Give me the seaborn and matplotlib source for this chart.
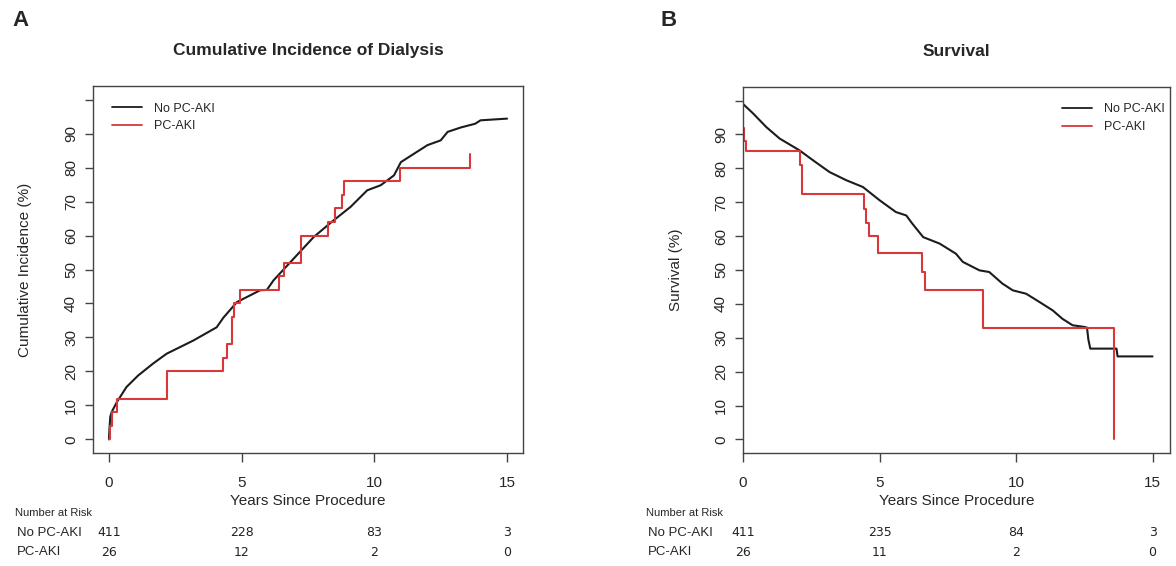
import numpy as np
import pandas as pd
import matplotlib
matplotlib.use("Agg")
import matplotlib.pyplot as plt
import matplotlib.transforms as mtransforms
import seaborn as sns

# ---------------- data ----------------
# Panel A: cumulative incidence of dialysis (%)
a_nopcaki_t = [0, 0.02, 0.05, 0.1, 0.3, 0.66, 1.1, 1.66, 2.17, 3.18, 4.06, 4.31, 4.82, 5.7,
               5.95, 6.2, 6.96, 7.72, 8.47, 9.1, 9.73, 10.24, 10.74, 11.0, 11.5, 12.0, 12.5,
               12.76, 13.26, 13.8, 14.0, 15.0]
a_nopcaki_v = [0, 3, 6.6, 8, 11, 15.4, 18.8, 22.3, 25.2, 29.1, 33, 35.8, 40.4, 43.9,
               44, 46.8, 53.2, 59.6, 64.5, 68.4, 73.3, 74.8, 77.7, 81.6, 84.1, 86.6, 88,
               90.5, 91.8, 92.9, 93.9, 94.4]
a_pcaki_t = [0, 0.03, 0.12, 0.3, 2.17, 4.29, 4.44, 4.63, 4.72, 4.94, 6.42, 6.61, 7.24,
             8.25, 8.53, 8.79, 8.87, 10.97, 13.6]
a_pcaki_v = [0, 4, 8, 12, 20, 24, 28, 36, 40, 44, 48, 52, 60, 64, 68, 72, 76, 80, 84]

# Panel B: survival (%)
b_nopcaki_t = [0, 0.37, 0.85, 1.34, 2.07, 2.56, 3.17, 3.78, 4.39, 5.0, 5.6, 5.98, 6.2, 6.6,
               7.2, 7.8, 8.05, 8.66, 9.02, 9.5, 9.88, 10.37, 10.85, 11.34, 11.7, 12.07, 12.5,
               12.6, 12.65, 12.72, 13.68, 13.72, 15.0]
b_nopcaki_v = [99, 96.2, 92.2, 88.8, 85.3, 82.4, 78.9, 76.5, 74.5, 70.6, 67.1, 66.1, 63.7, 59.7,
               57.8, 54.8, 52.4, 49.9, 49.4, 46, 44, 43, 40.6, 38.1, 35.6, 33.7, 33.2,
               33.0, 29.5, 26.8, 26.8, 24.5, 24.5]
b_pcaki_t = [0, 0.05, 0.1, 2.1, 2.17, 4.43, 4.5, 4.6, 4.94, 6.56, 6.65, 8.8, 13.6]
b_pcaki_v = [92, 88, 85, 81, 72.5, 68, 64, 60, 55, 49.5, 44, 33, 0]

risk_times = [0, 5, 10, 15]
a_risk_nopcaki = [411, 228, 83, 3]
a_risk_pcaki = [26, 12, 2, 0]
b_risk_nopcaki = [411, 235, 84, 3]
b_risk_pcaki = [26, 11, 2, 0]

groups = ["No PC-AKI", "PC-AKI"]
y_ticks = list(range(0, 101, 10))
y_ticklabels = [str(v) for v in range(0, 91, 10)] + [""]
x_ticks = [0, 5, 10, 15]

# ---------------- style ----------------
sns.set_style("ticks")
plt.rcParams["font.family"] = ["Liberation Sans", "DejaVu Sans"]

RED = "#d8383a"
BLACK = "#1c1c1c"
SPINE = "#444444"

fig = plt.figure(figsize=(11.76, 5.66), dpi=100)
W, H = 1176, 566

axA = fig.add_axes([93 / W, 1 - 453 / H, (523 - 93) / W, (453 - 86) / H])
axB = fig.add_axes([743 / W, 1 - 453 / H, (1170 - 743) / W, (453 - 87) / H])


def draw_panel(ax, t_black, v_black, t_red, v_red, xlim, title, ylabel, legend_loc, legend_anchor):
    dfb = pd.DataFrame({"t": t_black, "v": v_black})
    dfr = pd.DataFrame({"t": t_red, "v": v_red})
    sns.lineplot(data=dfb, x="t", y="v", ax=ax, color=BLACK, lw=1.5,
                 estimator=None, sort=False, label=groups[0])
    sns.lineplot(data=dfr, x="t", y="v", ax=ax, color=RED, lw=1.5,
                 estimator=None, sort=False, drawstyle="steps-post", label=groups[1])
    ax.set_xlim(*xlim)
    ax.set_ylim(-4, 104)
    ax.set_xticks(x_ticks)
    ax.set_xticklabels([str(v) for v in x_ticks])
    ax.set_yticks(y_ticks)
    ax.set_yticklabels(y_ticklabels, rotation=90, va="center")
    ax.tick_params(axis="x", length=6.5, width=1, color=SPINE, pad=10, labelsize=11)
    ax.tick_params(axis="y", length=5.8, width=1, color=SPINE, pad=5, labelsize=11)
    for s in ax.spines.values():
        s.set_visible(True)
        s.set_color(SPINE)
        s.set_linewidth(1)
    ax.set_title(title, fontsize=12.5, fontweight="bold", pad=22)
    ax.set_xlabel("Years Since Procedure", fontsize=11)
    ax.xaxis.set_label_coords(0.5, -0.112)
    ax.set_ylabel(ylabel, fontsize=11)
    leg = ax.legend(loc=legend_loc, bbox_to_anchor=legend_anchor, frameon=False,
                    fontsize=9, handlelength=2.4, handletextpad=1.0, borderpad=0,
                    borderaxespad=0, labelspacing=0.45)
    for line in leg.get_lines():
        line.set_linewidth(1.3)


draw_panel(axA, a_nopcaki_t, a_nopcaki_v, a_pcaki_t, a_pcaki_v, (-0.6, 15.6),
           "Cumulative Incidence of Dialysis", "Cumulative Incidence (%)",
           "upper left", (0.044, 0.955))
draw_panel(axB, b_nopcaki_t, b_nopcaki_v, b_pcaki_t, b_pcaki_v, (0, 15.64),
           "Survival", "Survival (%)",
           "upper right", (0.988, 0.955))
axA.yaxis.set_label_coords(-0.142, 0.5)
axB.yaxis.set_label_coords(-0.14, 0.5)

# panel letters
fig.text(20 / W, 1 - 20 / H, "A", ha="center", va="center", fontsize=16, fontweight="bold")
fig.text(669 / W, 1 - 20 / H, "B", ha="center", va="center", fontsize=16, fontweight="bold")

# number at risk tables
def risk_table(ax, x_label_px, nop, pc):
    tr = mtransforms.blended_transform_factory(ax.transData, fig.transFigure)
    fig.text(x_label_px / W, 1 - 513 / H, "Number at Risk", ha="left", va="center", fontsize=8)
    fig.text((x_label_px + 2) / W, 1 - 533 / H, groups[0], ha="left", va="center", fontsize=9.5)
    fig.text((x_label_px + 2) / W, 1 - 552 / H, groups[1], ha="left", va="center", fontsize=9.5)
    for t, n1, n2 in zip(risk_times, nop, pc):
        ax.text(t, 1 - 533 / H, str(n1), transform=tr, ha="center", va="center",
                fontsize=9, family=["DejaVu Sans"], color="#222222")
        ax.text(t, 1 - 552 / H, str(n2), transform=tr, ha="center", va="center",
                fontsize=9, family=["DejaVu Sans"], color="#222222")


risk_table(axA, 15, a_risk_nopcaki, a_risk_pcaki)
risk_table(axB, 646, b_risk_nopcaki, b_risk_pcaki)

fig.savefig("out.png", dpi=100)
